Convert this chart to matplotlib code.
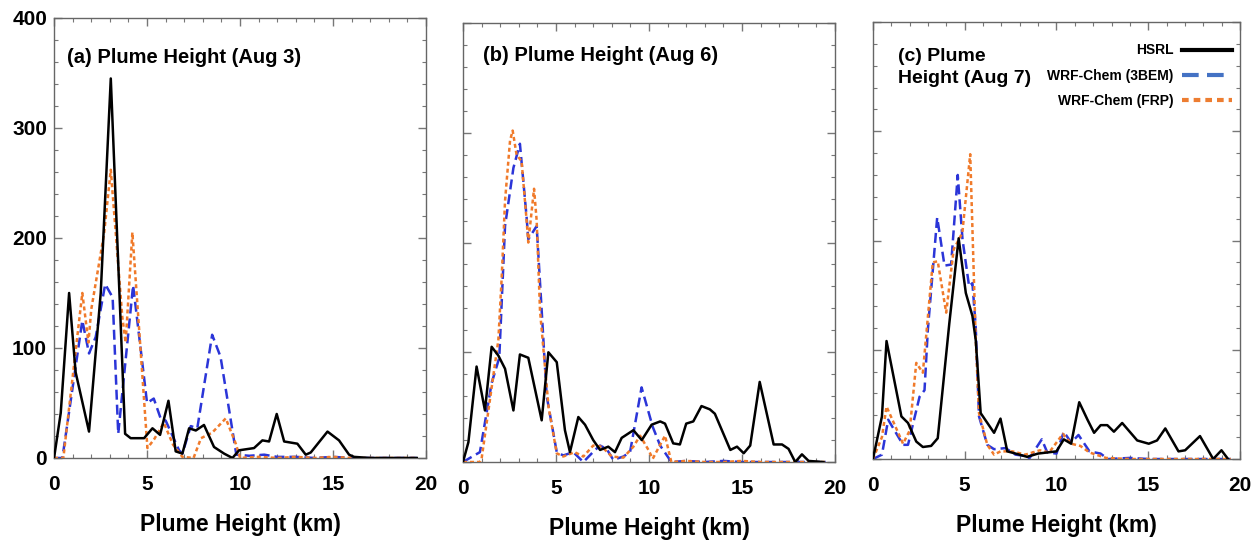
import matplotlib
matplotlib.use('Agg')
import matplotlib.pyplot as plt
from matplotlib import font_manager
from matplotlib.ticker import MultipleLocator

# Values (plume height km vs count)
hsrl_a_x = [0, 0.36, 0.81, 1.16, 1.88, 2.51, 3.05, 3.82, 4.12, 4.84, 5.29, 5.7, 6.15, 6.54, 6.9, 7.26, 7.62,
            8.06, 8.6, 9.14, 9.59, 9.95, 10.75, 11.2, 11.56, 11.97, 12.37, 13.08, 13.53, 13.8, 14.7, 15.32,
            15.86, 16.13, 17, 18, 19, 19.5]
hsrl_a_y = [0, 41, 150, 78, 24, 150, 345, 22, 18, 18, 27, 21, 52, 6, 4, 27, 25,
            30, 10, 4, 0, 7, 9, 16, 15, 40, 15, 13, 3, 5, 24, 16,
            3, 1, 0, 0, 0, 0]
bem_a_x = [0, 0.45, 1.52, 1.88, 2.24, 2.75, 3.15, 3.45, 4.25, 5.0, 5.36, 5.73, 6.0, 6.72, 6.9, 7.35, 7.7,
           8.5, 8.95, 9.8, 10.5, 11.3, 12.0, 13, 14, 15, 16, 17, 18, 19, 19.5]
bem_a_y = [0, 0, 125, 95, 110, 158, 146, 22, 157, 50, 54, 36, 34, 7, 4, 29, 27,
           112, 92, 3, 2, 3, 1, 1, 0, 1, 0, 0, 0, 0, 0]
frp_a_x = [0, 0.5, 1.52, 1.85, 2.0, 2.69, 3.05, 3.67, 3.85, 4.21, 5.02, 5.38, 5.9, 6.4, 6.9, 7.5, 7.9,
           8.5, 9.23, 9.77, 10.0, 11, 12, 13, 14, 15, 16, 17, 18, 19, 19.5]
frp_a_y = [0, 0, 150, 105, 135, 204, 262, 128, 105, 205, 9, 17, 32, 12, 1, 0, 18,
           23, 36, 13, 0, 1, 0, 1, 0, 1, 0, 0, 0, 0, 0]

hsrl_b_x = [0, 0.29, 0.73, 1.18, 1.54, 1.9, 2.26, 2.71, 3.06, 3.51, 4.23, 4.59, 5.04, 5.48, 5.75, 6.2,
            6.56, 7.0, 7.37, 7.81, 8.17, 8.53, 9.16, 9.61, 10.14, 10.6, 10.86, 11.3, 11.66, 12.0, 12.38,
            12.82, 13.27, 13.54, 14.37, 14.73, 15.09, 15.44, 15.95, 16.7, 17.15, 17.5, 17.86, 18.22,
            18.58, 19.38]
hsrl_b_y = [0, 18, 87, 47, 105, 97, 85, 47, 98, 95, 38, 100, 91, 29, 9, 41,
            34, 20, 11, 14, 9, 22, 29, 20, 34, 37, 35, 17, 16, 35, 37,
            51, 48, 44, 11, 14, 8, 15, 73, 16, 16, 12, 0, 7,
            1, 0]
bem_b_x = [0, 0.5, 0.91, 1.54, 1.95, 2.26, 2.71, 3.06, 3.42, 3.51, 3.96, 4.23, 4.5, 5.04, 5.39, 5.93,
           6.47, 7.1, 7.37, 7.72, 8.08, 8.62, 8.98, 9.6, 10.2, 10.6, 11.2, 12, 13, 14, 15, 16, 17, 18,
           19, 19.5]
bem_b_y = [0, 5, 9, 72, 95, 215, 268, 290, 223, 203, 215, 138, 60, 9, 6, 9,
           0, 11, 15, 12, 2, 5, 9, 68, 32, 15, 0, 1, 0, 1, 0, 0, 0, 0,
           0, 0]
frp_b_x = [0, 0.9, 1.0, 1.9, 2.08, 2.26, 2.53, 2.67, 2.88, 3.15, 3.42, 3.51, 3.82, 3.96, 4.14, 4.28,
           4.6, 5.04, 5.39, 6.0, 6.47, 7.0, 7.46, 8.0, 8.62, 9.16, 9.52, 9.97, 10.2, 10.86, 11.2, 12,
           13, 14, 15, 16, 17, 18, 19, 19.5]
frp_b_y = [0, 0, 3, 111, 168, 238, 293, 302, 280, 274, 220, 200, 249, 220, 138, 111,
           50, 8, 5, 9, 5, 15, 14, 5, 4, 14, 24, 11, 3, 24, 0, 1,
           0, 0, 1, 0, 0, 0, 0, 0]

hsrl_c_x = [0, 0.49, 0.74, 1.55, 1.91, 2.36, 2.72, 3.17, 3.53, 4.16, 4.67, 5.06, 5.42, 5.6, 5.87, 6.6,
            6.95, 7.32, 7.77, 8.4, 9.0, 9.5, 10.0, 10.4, 10.8, 11.24, 11.69, 12.05, 12.41, 12.77, 13.13,
            13.58, 14.4, 15.03, 15.48, 15.93, 16.65, 17.01, 17.82, 18.54, 18.99, 19.35]
hsrl_c_y = [0, 39, 108, 39, 33, 16, 11, 12, 19, 124, 202, 152, 131, 109, 42, 24,
            37, 7, 5, 2, 5, 6, 7, 18, 14, 52, 36, 24, 31, 31, 25,
            33, 17, 14, 17, 28, 7, 8, 21, 0, 8, 0]
bem_c_x = [0, 0.49, 0.83, 1.64, 1.91, 2.54, 2.81, 2.99, 3.5, 3.9, 4.26, 4.62, 4.88, 5.24, 5.42, 5.6,
           5.78, 6.23, 6.6, 7.22, 7.77, 8.22, 8.5, 9.2, 9.5, 10.0, 10.4, 10.8, 11.2, 11.8, 12.4, 12.8,
           14, 15, 16, 17, 18, 19, 19.5]
bem_c_y = [0, 4, 36, 13, 13, 57, 63, 118, 221, 177, 178, 260, 201, 158, 161, 121,
           39, 13, 9, 10, 4, 3, 0, 18, 6, 5, 25, 15, 22, 7, 5, 0,
           1, 0, 0, 0, 0, 0, 0]
frp_c_x = [0, 0.49, 0.74, 1.64, 2.0, 2.36, 2.72, 3.26, 3.53, 3.99, 4.4, 4.87, 5.3, 5.6, 5.78, 6.23,
           6.6, 6.95, 7.6, 8.3, 9.1, 9.6, 10.35, 10.8, 11.3, 11.8, 12.7, 14, 15, 16, 17, 18, 19, 19.5]
frp_c_y = [0, 20, 48, 14, 26, 88, 79, 180, 181, 134, 192, 207, 279, 109, 42, 13,
           4, 7, 7, 4, 8, 6, 23, 14, 12, 6, 1, 0, 0, 0, 0, 0, 0, 0]

panel_titles = ['(a) Plume Height (Aug 3)', '(b) Plume Height (Aug 6)', '(c) Plume\nHeight (Aug 7)']
series_labels = ['HSRL', 'WRF-Chem (3BEM)', 'WRF-Chem (FRP)']
xticks = [0, 5, 10, 15, 20]
yticks = [0, 100, 200, 300, 400]

names = {f.name for f in font_manager.fontManager.ttflist}
narrow = 'Liberation Sans Narrow' if 'Liberation Sans Narrow' in names else 'Liberation Sans'
plt.rcParams['font.family'] = [narrow, 'DejaVu Sans']
plt.rcParams['font.weight'] = 'bold'

fig = plt.figure(figsize=(12.51, 5.46), dpi=100)
positions = [
    [0.0432, 0.1612, 0.2974, 0.8059],
    [0.3701, 0.1538, 0.2974, 0.8040],
    [0.6978, 0.1593, 0.2934, 0.8004],
]
title_pos = [(0.035, 0.91), (0.054, 0.927), (0.068, 0.94)]
data = [
    (hsrl_a_x, hsrl_a_y, bem_a_x, bem_a_y, frp_a_x, frp_a_y),
    (hsrl_b_x, hsrl_b_y, bem_b_x, bem_b_y, frp_b_x, frp_b_y),
    (hsrl_c_x, hsrl_c_y, bem_c_x, bem_c_y, frp_c_x, frp_c_y),
]

blue = '#2b35d8'
orange = '#f07a2a'

for i, pos in enumerate(positions):
    ax = fig.add_axes(pos)
    hx, hy, bx, by, fx, fy = data[i]
    ax.plot(bx, by, color=blue, lw=1.8, dashes=(4, 2), zorder=2, label=series_labels[1])
    ax.plot(fx, fy, color=orange, lw=1.8, dashes=(1.6, 1.2), zorder=3, label=series_labels[2])
    ax.plot(hx, hy, color='black', lw=1.8, zorder=4, label=series_labels[0])

    ax.set_xlim(0, 20)
    ax.set_ylim(0, 400)
    ax.set_xticks(xticks)
    ax.set_yticks(yticks)
    ax.xaxis.set_minor_locator(MultipleLocator(1))
    ax.yaxis.set_minor_locator(MultipleLocator(20))
    ax.tick_params(which='both', direction='in', top=True, right=True, color='#777777')
    ax.tick_params(which='major', length=6, width=1)
    ax.tick_params(which='minor', length=3, width=0.8)
    ax.tick_params(axis='x', labelsize=15, pad=12)
    ax.tick_params(axis='y', labelsize=15, pad=5, labelleft=(i == 0))
    for s in ax.spines.values():
        s.set_color('#666666')
        s.set_linewidth(1)
    ax.set_xlabel('Plume Height (km)', fontsize=16.5, fontweight='bold', labelpad=14)

    tx, ty = title_pos[i]
    ax.text(tx, ty, panel_titles[i], transform=ax.transAxes, fontsize=14 if i == 2 else 14.5,
            fontweight='bold', va='top' if i == 2 else 'center', ha='left', linespacing=1.4)

    if i == 2:
        h, l = ax.get_legend_handles_labels()
        order = [2, 0, 1]
        leg = ax.legend([h[k] for k in order], [l[k] for k in order], loc='upper right',
                        bbox_to_anchor=(1.0, 0.97), markerfirst=False, frameon=False,
                        prop={'size': 10, 'weight': 'bold'}, handlelength=3.6,
                        handletextpad=0.6, labelspacing=0.8, borderaxespad=0.2)
        leg.legend_handles[1].set_color('#4472c4')
        leg.legend_handles[2].set_color('#ed7d31')
        for lh in leg.legend_handles:
            lh.set_linewidth(3)

fig.savefig('out.png', dpi=100)
